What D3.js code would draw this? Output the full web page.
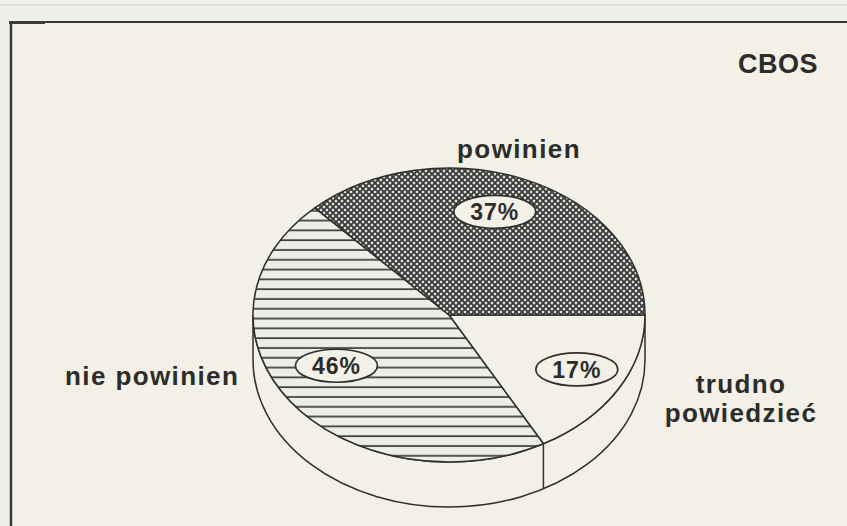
<!DOCTYPE html>
<html>
<head>
<meta charset="utf-8">
<script src="https://cdn.jsdelivr.net/npm/d3@7"></script>
<style>
  html, body { margin: 0; padding: 0; background: #eef0ec; }
  svg { display: block; }
  text { font-family: "Liberation Sans", Arial, sans-serif; font-weight: bold; fill: #2c2c2a; }
</style>
</head>
<body>
<svg id="chart"></svg>
<script>
// slices, clockwise from 3 o'clock
const categories = ["trudno powiedzieć", "nie powinien", "powinien"];
const values = [17, 46, 37];
const pctLabels = ["17%", "46%", "37%"];
const fills = ["plain", "hlines", "cross"];
const source = "CBOS";

const config = {
  width: 847, height: 526,
  cx: 449, cy: 315, rx: 196, ry: 147, depth: 45,
  ink: "#2f2f2d", paper: "#f2f0e7"
};

// label placement (text only)
const catLabels = [
  { lines: ["trudno", "powiedzieć"], x: 741, y: 393, anchor: "middle" },
  { lines: ["nie powinien"], x: 65, y: 385, anchor: "start" },
  { lines: ["powinien"], x: 519, y: 158, anchor: "middle" }
];
const pctOffset = [-1, 5, -5]; // degrees, nudges the oval labels
const pctRadius = [0.75, 0.67, 0.74];

const svg = d3.select("#chart")
  .attr("width", config.width)
  .attr("height", config.height);

// paper
svg.append("rect").attr("width", config.width).attr("height", config.height).attr("fill", "#eef0ec");
svg.append("rect").attr("x", 11).attr("y", 22)
  .attr("width", config.width - 11).attr("height", config.height - 22)
  .attr("fill", config.paper);
svg.append("line").attr("x1", 0).attr("x2", config.width).attr("y1", 5).attr("y2", 5)
  .attr("stroke", "#c9cbc8").attr("stroke-width", 1);
// frame
svg.append("line").attr("x1", 9).attr("x2", config.width).attr("y1", 22).attr("y2", 22)
  .attr("stroke", "#3a3a38").attr("stroke-width", 2);
svg.append("line").attr("x1", 9).attr("x2", 45).attr("y1", 22.5).attr("y2", 22.5)
  .attr("stroke", "#3a3a38").attr("stroke-width", 3);
svg.append("line").attr("x1", 11).attr("x2", 11).attr("y1", 21).attr("y2", config.height)
  .attr("stroke", "#3a3a38").attr("stroke-width", 2.5);

// patterns
const defs = svg.append("defs");
const hp = defs.append("pattern").attr("id", "hlines")
  .attr("patternUnits", "userSpaceOnUse").attr("width", 10).attr("height", 9.8);
hp.append("rect").attr("width", 10).attr("height", 9.8).attr("fill", "#eceee9");
hp.append("line").attr("x1", 0).attr("x2", 10).attr("y1", 5).attr("y2", 5)
  .attr("stroke", config.ink).attr("stroke-width", 1.6);

const cp = defs.append("pattern").attr("id", "cross")
  .attr("patternUnits", "userSpaceOnUse").attr("width", 6).attr("height", 6);
cp.append("rect").attr("width", 6).attr("height", 6).attr("fill", "#e2e4e0");
cp.append("path").attr("d", "M0,0L6,6M6,0L0,6M-1,5L1,7M5,-1L7,1M-1,1L1,-1M5,7L7,5")
  .attr("stroke", "#3a3a38").attr("stroke-width", 1.9);

const fillFor = f => f === "plain" ? config.paper : `url(#${f})`;

// ellipse helpers
const pt = (a, k = 1, dz = 0) => [
  config.cx + k * config.rx * Math.sin(a),
  config.cy - k * config.ry * Math.cos(a) + dz
];

const pie = d3.pie().sort(null)
  .startAngle(Math.PI / 2)
  .endAngle(Math.PI / 2 + 2 * Math.PI)
  .value(d => d);
const arcs = pie(values);

const g = svg.append("g");

// side wall (front half)
const d = config.depth;
const sideL = pt(3 * Math.PI / 2), sideR = pt(Math.PI / 2);
g.append("path")
  .attr("d", `M${sideR}A${config.rx},${config.ry} 0 0 1 ${sideL}` +
    `L${pt(3 * Math.PI / 2, 1, d)}A${config.rx},${config.ry} 0 0 0 ${pt(Math.PI / 2, 1, d)}Z`)
  .attr("fill", config.paper)
  .attr("stroke", config.ink).attr("stroke-width", 1.5);

// vertical edges where slice boundaries fall on the visible side
arcs.forEach(a => {
  const ang = a.startAngle % (2 * Math.PI);
  if (ang > Math.PI / 2 + 0.01 && ang < 3 * Math.PI / 2 - 0.01) {
    const p0 = pt(ang), p1 = pt(ang, 1, d);
    g.append("line")
      .attr("x1", p0[0]).attr("y1", p0[1]).attr("x2", p1[0]).attr("y2", p1[1])
      .attr("stroke", config.ink).attr("stroke-width", 1.5);
  }
});

// top face slices
g.selectAll(".slice")
  .data(arcs)
  .join("path")
  .attr("class", "slice")
  .attr("d", a => {
    const p0 = pt(a.startAngle), p1 = pt(a.endAngle);
    const large = a.endAngle - a.startAngle > Math.PI ? 1 : 0;
    return `M${config.cx},${config.cy}L${p0}A${config.rx},${config.ry} 0 ${large} 1 ${p1}Z`;
  })
  .attr("fill", (a, i) => fillFor(fills[i]))
  .attr("stroke", config.ink)
  .attr("stroke-width", 1.5)
  .attr("stroke-linejoin", "round");

// percentage ovals
const pctG = g.selectAll(".pct")
  .data(arcs)
  .join("g")
  .attr("class", "pct")
  .attr("transform", (a, i) => {
    const mid = (a.startAngle + a.endAngle) / 2 + pctOffset[i] * Math.PI / 180;
    return `translate(${pt(mid, pctRadius[i])})`;
  });
pctG.append("ellipse")
  .attr("rx", 41).attr("ry", 16.5)
  .attr("fill", config.paper)
  .attr("stroke", config.ink).attr("stroke-width", 1.7);
pctG.append("text")
  .attr("text-anchor", "middle")
  .attr("dy", "0.36em")
  .attr("font-size", 23)
  .attr("letter-spacing", 1)
  .text((a, i) => pctLabels[i]);

// category labels
catLabels.forEach((l, i) => {
  const t = svg.append("text")
    .attr("x", l.x).attr("y", l.y)
    .attr("text-anchor", l.anchor)
    .attr("font-size", 26)
    .attr("letter-spacing", 1.4);
  l.lines.forEach((s, j) => {
    t.append("tspan").attr("x", l.x).attr("dy", j ? 29 : 0).text(s);
  });
});

// source
svg.append("text")
  .attr("x", 818).attr("y", 73)
  .attr("text-anchor", "end")
  .attr("font-size", 27)
  .attr("letter-spacing", 0.5)
  .text(source);
</script>
</body>
</html>
